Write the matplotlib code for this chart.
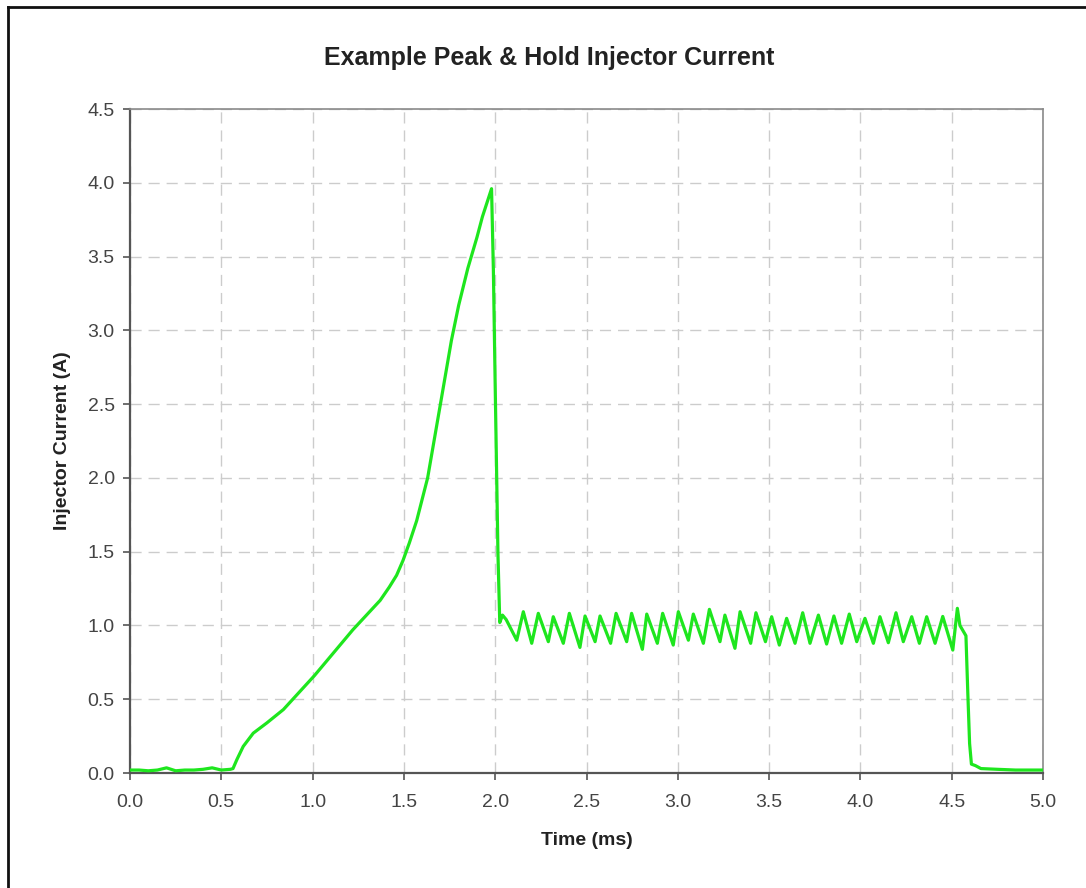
"""
Example peak & hold injector current trace, redrawn in an Excel-like style.
"""

import numpy as np
import matplotlib.pyplot as plt
from matplotlib.lines import Line2D

# injector off, baseline noise before the pulse starts (ms, A)
off_t = [0.00, 0.05, 0.10, 0.15, 0.20, 0.25, 0.30, 0.35, 0.40, 0.45, 0.50, 0.55]
off_i = [0.02, 0.02, 0.015, 0.02, 0.035, 0.015, 0.02, 0.02, 0.025, 0.035, 0.02, 0.025]

# peak phase: current ramps up to about 4 A, then is cut back
ramp_t = [0.564, 0.585, 0.62, 0.675, 0.75, 0.84, 1.01, 1.22, 1.37, 1.42, 1.46,
          1.495, 1.53, 1.57, 1.63, 1.70, 1.76, 1.80, 1.85, 1.90, 1.93, 1.98,
          1.99, 2.00, 2.015, 2.025]
ramp_i = [0.03, 0.09, 0.18, 0.27, 0.34, 0.43, 0.66, 0.97, 1.17, 1.26, 1.34,
          1.44, 1.56, 1.71, 2.00, 2.50, 2.93, 3.17, 3.42, 3.63, 3.77, 3.96,
          3.41, 2.62, 1.49, 1.02]

# hold phase: chopped current around 1 A
hold_t = [2.04, 2.06, 2.118, 2.154, 2.200, 2.236, 2.291, 2.318, 2.373, 2.406,
          2.464, 2.492, 2.547, 2.574, 2.632, 2.662, 2.720, 2.747, 2.806, 2.830,
          2.888, 2.917, 2.975, 3.003, 3.058, 3.085, 3.140, 3.173, 3.231, 3.258,
          3.313, 3.341, 3.399, 3.428, 3.480, 3.514, 3.556, 3.596, 3.642, 3.684,
          3.724, 3.770, 3.815, 3.855, 3.897, 3.939, 3.980, 4.025, 4.071, 4.107,
          4.153, 4.195, 4.235, 4.281, 4.323, 4.363, 4.409, 4.451, 4.506, 4.531,
          4.545, 4.578]
hold_i = [1.07, 1.04, 0.90, 1.093, 0.879, 1.082, 0.89, 1.059, 0.879, 1.082,
          0.851, 1.064, 0.89, 1.064, 0.879, 1.082, 0.89, 1.082, 0.838, 1.077,
          0.879, 1.082, 0.867, 1.093, 0.90, 1.077, 0.879, 1.109, 0.89, 1.07,
          0.845, 1.093, 0.879, 1.086, 0.89, 1.059, 0.867, 1.048, 0.879, 1.086,
          0.879, 1.07, 0.874, 1.064, 0.879, 1.077, 0.89, 1.048, 0.879, 1.059,
          0.883, 1.086, 0.89, 1.059, 0.879, 1.059, 0.879, 1.061, 0.833, 1.116,
          1.00, 0.93]

# switch-off and tail
tail_t = [4.588, 4.598, 4.608, 4.63, 4.66, 4.75, 4.85, 4.95, 5.00]
tail_i = [0.55, 0.20, 0.06, 0.05, 0.03, 0.025, 0.02, 0.02, 0.02]

x_ticks = np.arange(0, 5.01, 0.5)
y_ticks = np.arange(0, 4.51, 0.5)

plt.rcParams["font.family"] = ["Liberation Sans", "DejaVu Sans"]

time_ms = np.concatenate([off_t, ramp_t, hold_t, tail_t])
current_a = np.concatenate([off_i, ramp_i, hold_i, tail_i])

fig = plt.figure(figsize=(10.86, 8.88), dpi=100)
ax = fig.add_axes([130 / 1086, 1 - 773 / 888, (1043 - 130) / 1086, (773 - 109) / 888])

ax.plot(time_ms, current_a, color="#1ee61e", linewidth=2.3, solid_joinstyle="round", zorder=3)

ax.set_xlim(0, 5)
ax.set_ylim(0, 4.5)
ax.set_xticks(x_ticks)
ax.set_yticks(y_ticks)
ax.set_xticklabels([f"{v:.1f}" for v in x_ticks])
ax.set_yticklabels([f"{v:.1f}" for v in y_ticks])
ax.tick_params(direction="out", length=5, width=1.2, colors="#555555", labelsize=14,
               labelcolor="#444444")
ax.tick_params(axis="x", pad=10)
ax.tick_params(axis="y", pad=6)

ax.grid(True, color="#cccccc", linestyle=(0, (8, 5)), linewidth=1.0, zorder=0)
ax.set_axisbelow(True)

for side in ["left", "bottom"]:
    ax.spines[side].set_color("#555555")
    ax.spines[side].set_linewidth(1.6)
for side in ["top", "right"]:
    ax.spines[side].set_color("#8a8a8a")
    ax.spines[side].set_linewidth(1.2)

ax.set_xlabel("Time (ms)", fontsize=14, fontweight="bold", color="#222222", labelpad=15)
ax.set_ylabel("Injector Current (A)", fontsize=14, fontweight="bold", color="#222222", labelpad=12)

fig.text(549 / 1086, 1 - 58 / 888, "Example Peak & Hold Injector Current",
         ha="center", va="center", fontsize=18, fontweight="bold", color="#222222")

# outer chart frame (only the top and left edges fall inside the picture)
fig.add_artist(Line2D([8 / 1086, 8 / 1086], [0, 1 - 7 / 888], transform=fig.transFigure,
                      color="#111111", linewidth=2))
fig.add_artist(Line2D([8 / 1086, 1], [1 - 7 / 888, 1 - 7 / 888], transform=fig.transFigure,
                      color="#111111", linewidth=2))

fig.savefig("out.png", dpi=100)
